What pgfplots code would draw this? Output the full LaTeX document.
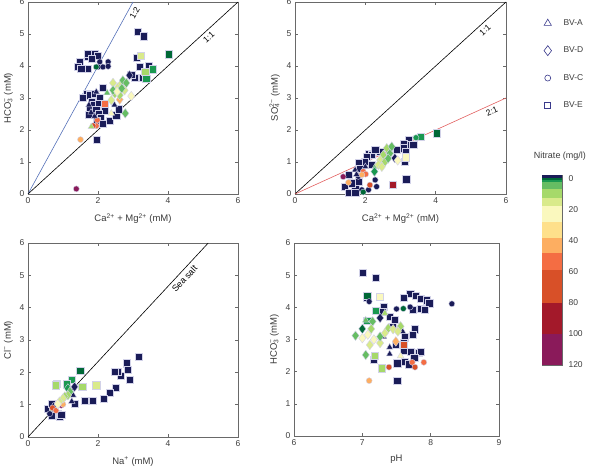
\documentclass[border=0pt]{standalone}
\usepackage{fontspec}
\setmainfont{Liberation Sans}
\usepackage{pgfplots}
\pgfplotsset{compat=1.18}
\definecolor{cN}{RGB}{26,28,88}
\definecolor{cG0}{RGB}{0,104,55}
\definecolor{cG1}{RGB}{26,152,80}
\definecolor{cG2}{RGB}{102,189,99}
\definecolor{cG3}{RGB}{166,217,106}
\definecolor{cG4}{RGB}{217,234,139}
\definecolor{cY1}{RGB}{250,248,190}
\definecolor{cY2}{RGB}{254,224,139}
\definecolor{cO1}{RGB}{253,174,97}
\definecolor{cO2}{RGB}{244,109,67}
\definecolor{cR1}{RGB}{216,80,40}
\definecolor{cR2}{RGB}{163,25,42}
\definecolor{cP}{RGB}{138,26,90}
\definecolor{cEdge}{RGB}{210,210,232}
\definecolor{cFrame}{RGB}{105,105,105}
\definecolor{cText}{RGB}{60,60,60}
\definecolor{cBlue}{RGB}{84,112,184}
\definecolor{cRed}{RGB}{226,96,96}
\definecolor{cLeg}{RGB}{58,58,140}
\tikzset{cl/.style={draw=cEdge, fill=#1, line width=0.4pt}}
\pgfplotsset{
  panel/.style={scale only axis, clip=false,
    axis line style={cFrame, line width=0.8pt},
    tick style={cFrame, line width=0.6pt}, tick align=inside, major tick length=3pt,
    ticklabel style={font=\fontsize{8.5}{9}\selectfont, text=cText},
    label style={font=\fontsize{9.5}{10}\selectfont, text=cText},
    xlabel style={yshift=-3pt},
    /pgf/number format/assume math mode=true,
    ymin=0, ymax=6, ytick={0,...,6}},
  mk/.style={only marks, scatter, scatter src=explicit symbolic,
    scatter/classes={N={cl=cN},G0={cl=cG0},G1={cl=cG1},G2={cl=cG2},G3={cl=cG3},G4={cl=cG4},
      Y1={cl=cY1},Y2={cl=cY2},O1={cl=cO1},O2={cl=cO2},R1={cl=cR1},R2={cl=cR2},P={cl=cP}}},
  sq/.style={mk, mark=square*, mark size=3.6pt},
  ci/.style={mk, mark=*, mark size=3pt},
  tr/.style={mk, mark=triangle*, mark size=3.8pt},
  di/.style={mk, mark=diamond*, mark size=4.8pt},
}
\begin{document}
\begin{tikzpicture}
\useasboundingbox (0,0) rectangle (598pt,470pt);
% ---------------- Panel 1
\begin{axis}[panel, at={(28pt,276pt)}, anchor=south west, width=210pt, height=192pt,
  xmin=0, xmax=6, xtick={0,2,4,6},
  xlabel={Ca\textsuperscript{2+} + Mg\textsuperscript{2+} (mM)},
  ylabel={HCO\rlap{\textsubscript{3}}\textsuperscript{−} (mM)}]
\addplot[cBlue, line width=0.6pt] coordinates {(0,0) (3,6)} node[pos=0.96, sloped, below, font=\fontsize{8.5}{9}\selectfont, text=black] {1:2};
\addplot[black, line width=0.6pt] coordinates {(0,0) (6,6)} node[pos=0.84, sloped, below, font=\fontsize{8.5}{9}\selectfont, text=black] {1:1};
\addplot[sq] table[meta=c] {
x y c
1.48 4.13 N
1.43 3.97 N
1.71 4.28 N
1.71 4.39 N
1.90 4.39 N
1.71 3.92 N
1.52 3.92 N
2.00 4.33 N
1.81 4.23 N
3.14 5.06 N
3.31 4.93 N
3.10 4.26 N
3.19 3.97 N
3.45 4.02 N
3.27 3.64 N
3.05 3.63 N
2.95 3.74 N
2.14 3.33 N
1.67 3.12 N
1.56 3.00 N
1.76 3.09 N
1.90 3.14 N
2.05 3.01 N
1.81 2.88 N
1.89 2.78 N
2.01 2.81 N
1.76 2.62 N
1.95 2.62 N
2.20 2.62 N
1.74 2.48 N
2.03 2.52 N
2.08 2.39 N
1.97 2.29 N
2.14 2.20 N
1.97 1.70 N
2.33 2.29 N
2.52 2.46 N
2.59 2.65 N
4.03 4.37 G0
3.21 4.33 G4
3.35 3.81 G3
3.57 3.90 G1
3.38 3.61 G1
2.19 2.83 O2
};
\addplot[ci] table[meta=c] {
x y c
2.05 4.13 N
2.00 3.97 N
2.14 3.97 N
2.29 4.13 N
2.29 3.99 N
1.95 3.97 G0
1.50 1.70 O1
1.38 0.16 P
1.98 2.31 O2
1.95 2.13 O2
1.86 2.13 R1
};
\addplot[tr] table[meta=c] {
x y c
1.95 3.19 N
1.74 2.78 N
1.90 2.43 N
2.47 2.78 N
1.80 2.55 N
2.26 3.16 G2
2.38 2.52 Y1
1.81 2.10 G3
};
\addplot[di] table[meta=c] {
x y c
2.90 3.71 N
2.62 2.95 O1
2.78 2.52 G2
2.38 2.93 G4
2.43 3.47 G4
2.48 3.14 G3
2.57 3.33 G4
2.67 3.45 G4
2.71 3.55 G2
2.81 3.47 G2
2.62 3.09 G3
2.76 3.24 G4
2.95 3.06 Y1
2.43 3.24 G2
2.55 3.20 Y1
2.68 3.30 G2
};
\end{axis}
% ---------------- Panel 2
\begin{axis}[panel, at={(295pt,276pt)}, anchor=south west, width=211pt, height=192pt,
  xmin=0, xmax=6, xtick={0,2,4,6},
  xlabel={Ca\textsuperscript{2+} + Mg\textsuperscript{2+} (mM)},
  ylabel={SO\rlap{\textsubscript{4}}\textsuperscript{2−} (mM)},
  legend style={at={(1.165,0.93)}, anchor=north west, draw=none, fill=none,
    font=\fontsize{8.5}{9}\selectfont, text=cText, row sep=16pt, column sep=10pt},
  legend cell align=left]
\addlegendimage{only marks, mark=triangle, mark size=4.2pt, draw=cLeg, line width=0.6pt}
\addlegendentry{BV-A}
\addlegendimage{only marks, mark=diamond, mark size=5pt, draw=cLeg, line width=0.6pt}
\addlegendentry{BV-D}
\addlegendimage{only marks, mark=o, mark size=3pt, draw=cLeg, line width=0.6pt}
\addlegendentry{BV-C}
\addlegendimage{only marks, mark=square, mark size=3pt, draw=cLeg, line width=0.6pt}
\addlegendentry{BV-E}
\addplot[black, line width=0.6pt, forget plot] coordinates {(0,0) (6,6)} node[pos=0.88, sloped, below, font=\fontsize{8.5}{9}\selectfont, text=black] {1:1};
\addplot[cRed, line width=0.6pt, forget plot] coordinates {(0,0) (6,3)} node[pos=0.92, sloped, below, font=\fontsize{8.5}{9}\selectfont, text=black] {2:1};
\addplot[sq, forget plot] table[meta=c] {
x y c
3.24 1.69 N
3.20 1.55 N
3.36 1.53 N
3.08 1.58 N
3.08 1.43 N
3.15 1.32 N
2.89 1.38 N
3.13 1.01 N
3.16 0.46 N
2.42 1.32 N
2.09 1.27 N
2.19 1.22 N
2.28 1.38 N
2.04 1.17 N
1.99 1.01 N
1.80 0.96 N
1.85 0.80 N
2.19 0.91 N
1.52 0.60 N
1.42 0.23 N
1.71 0.18 N
1.61 0.34 N
1.80 0.39 N
1.52 0.05 N
1.71 0.05 N
4.03 1.90 G0
3.58 1.79 G1
3.15 1.15 Y1
2.78 0.28 R2
};
\addplot[ci, forget plot] table[meta=c] {
x y c
2.28 0.44 N
2.32 0.23 N
2.09 0.13 N
1.90 0.13 N
1.80 0.55 N
1.94 0.70 O2
2.01 0.62 O2
1.90 0.60 O1
1.37 0.54 P
1.52 0.36 O1
2.13 0.28 R1
1.94 0.06 G0
3.44 1.76 G1
};
\addplot[tr, forget plot] table[meta=c] {
x y c
1.71 0.75 N
1.75 0.61 N
2.00 0.85 N
2.28 0.85 G2
};
\addplot[di, forget plot] table[meta=c] {
x y c
2.84 1.12 N
2.61 1.43 G3
2.70 1.27 G2
2.51 1.22 G3
2.42 1.06 G4
2.56 1.01 G3
2.37 0.91 G4
2.65 1.11 G2
2.75 1.48 G2
2.47 0.85 G4
2.26 0.70 G1
2.92 1.05 Y1
};
\end{axis}
% ---------------- Panel 3
\begin{axis}[panel, at={(28pt,33pt)}, anchor=south west, width=210pt, height=194pt,
  xmin=0, xmax=6, xtick={0,2,4,6},
  xlabel={Na\textsuperscript{+} (mM)},
  ylabel={Cl\textsuperscript{−} (mM)}]
\addplot[black, line width=0.6pt] coordinates {(0,0) (5.15,6)} node[pos=0.84, sloped, below, font=\fontsize{9}{9}\selectfont, text=black] {Sea salt};
\addplot[sq] table[meta=c] {
x y c
3.17 2.48 N
2.81 2.28 N
2.86 2.07 N
2.90 1.78 N
2.64 1.89 N
2.57 2.02 N
2.48 2.02 N
2.50 1.53 N
2.33 1.38 N
2.16 1.18 N
1.86 1.12 N
1.62 1.12 N
1.33 1.03 N
0.57 0.88 N
0.71 0.78 N
0.86 0.72 N
0.67 0.67 N
0.90 0.62 N
0.67 1.03 N
0.95 0.70 N
1.49 2.05 G0
1.24 1.76 G1
1.10 1.63 G1
0.83 1.65 G2
0.79 1.60 G3
1.55 1.55 G3
1.95 1.60 G4
};
\addplot[tr] table[meta=c] {
x y c
1.29 1.29 N
1.25 1.10 N
0.75 0.95 N
0.70 0.85 G3
};
\addplot[ci] table[meta=c] {
x y c
0.76 0.98 N
0.62 0.72 N
0.70 0.90 R1
0.80 0.82 O2
0.95 0.98 P
1.00 1.01 O1
};
\addplot[di] table[meta=c] {
x y c
1.33 1.55 N
1.14 1.50 G1
1.20 1.40 G2
1.14 1.29 G3
1.05 1.25 G3
1.00 1.19 G4
0.90 1.09 G4
0.85 1.02 Y1
};
\end{axis}
% ---------------- Panel 4
\begin{axis}[panel, at={(294pt,34pt)}, anchor=south west, width=205pt, height=193pt,
  xmin=6, xmax=9, xtick={6,7,8,9},
  xlabel={pH},
  ylabel={HCO\rlap{\textsubscript{3}}\textsuperscript{−} (mM)}]
\addplot[sq] table[meta=c] {
x y c
7.00 5.07 N
7.20 4.93 N
7.07 4.29 N
7.70 4.42 N
7.78 4.36 N
7.86 4.27 N
7.94 4.22 N
7.98 4.13 N
7.60 4.29 N
7.74 3.93 N
7.85 3.96 N
7.91 3.93 N
7.31 4.01 N
7.30 3.87 N
7.40 3.70 N
7.47 3.61 N
7.45 3.41 N
7.77 3.32 N
7.74 3.15 N
7.62 3.07 N
7.60 2.89 N
7.49 2.83 N
7.60 2.66 N
7.71 2.63 N
7.82 2.60 N
7.86 2.63 N
7.76 2.44 N
7.62 2.32 N
7.51 2.26 N
7.68 2.23 N
7.17 2.37 N
7.51 1.72 N
7.07 4.37 G0
7.25 4.34 Y1
7.20 3.89 G1
7.07 3.59 G1
7.60 2.83 R1
7.18 2.50 G3
7.28 2.11 G3
};
\addplot[ci] table[meta=c] {
x y c
7.10 4.18 N
8.31 4.11 N
7.50 3.95 N
7.70 4.01 N
7.60 3.96 G0
7.39 2.14 R1
7.73 2.29 O2
7.90 2.29 O2
7.77 2.14 R1
7.10 1.72 O1
};
\addplot[tr] table[meta=c] {
x y c
7.59 3.25 N
7.40 2.55 N
7.40 2.76 N
7.31 3.09 N
7.33 3.82 G3
7.56 2.49 Y1
7.05 3.60 G2
};
\addplot[di] table[meta=c] {
x y c
7.26 3.67 N
7.15 3.56 G2
7.00 3.33 G0
7.13 3.33 G3
6.90 3.12 G2
7.08 3.15 Y1
7.00 3.04 Y1
7.11 2.83 G4
7.26 2.89 G4
7.26 3.09 G2
7.38 3.35 G3
7.45 3.32 G4
7.56 3.41 G3
7.52 3.25 G4
7.49 2.94 O1
7.05 2.52 G2
7.17 3.00 Y1
7.33 3.20 G4
};
\end{axis}
% ---------------- Colour bar
\begin{axis}[at={(542pt,105pt)}, anchor=south west, scale only axis, width=20pt, height=190pt,
  xmin=0, xmax=1, ymin=-2, ymax=120, y dir=reverse, xtick=\empty,
  ytick={0,20,...,120}, ytick pos=right, yticklabel pos=right,
  tick align=inside, major tick length=2pt, tick style={cFrame},
  axis line style={cFrame, line width=0.5pt},
  ticklabel style={font=\fontsize{8.5}{9}\selectfont, text=cText},
  yticklabel style={xshift=3pt},
  /pgf/number format/assume math mode=true,
  title={Nitrate (mg/l)},
  title style={at={(0.9,1)}, anchor=south, yshift=5pt, font=\fontsize{9}{9}\selectfont, text=cText}]
\addplot[fill=cN, draw=none] coordinates {(0,-2) (1,-2) (1,0) (0,0)} --cycle;
\addplot[fill=cG0, draw=none] coordinates {(0,0) (1,0) (1,1) (0,1)} --cycle;
\addplot[fill=cG1, draw=none] coordinates {(0,1) (1,1) (1,2.5) (0,2.5)} --cycle;
\addplot[fill=cG2, draw=none] coordinates {(0,2.5) (1,2.5) (1,7) (0,7)} --cycle;
\addplot[fill=cG3, draw=none] coordinates {(0,7) (1,7) (1,13) (0,13)} --cycle;
\addplot[fill=cG4, draw=none] coordinates {(0,13) (1,13) (1,18) (0,18)} --cycle;
\addplot[fill=cY1, draw=none] coordinates {(0,18) (1,18) (1,28) (0,28)} --cycle;
\addplot[fill=cY2, draw=none] coordinates {(0,28) (1,28) (1,38.5) (0,38.5)} --cycle;
\addplot[fill=cO1, draw=none] coordinates {(0,38.5) (1,38.5) (1,48) (0,48)} --cycle;
\addplot[fill=cO2, draw=none] coordinates {(0,48) (1,48) (1,59) (0,59)} --cycle;
\addplot[fill=cR1, draw=none] coordinates {(0,59) (1,59) (1,80) (0,80)} --cycle;
\addplot[fill=cR2, draw=none] coordinates {(0,80) (1,80) (1,100) (0,100)} --cycle;
\addplot[fill=cP, draw=none] coordinates {(0,100) (1,100) (1,120) (0,120)} --cycle;
\end{axis}
\end{tikzpicture}
\end{document}
